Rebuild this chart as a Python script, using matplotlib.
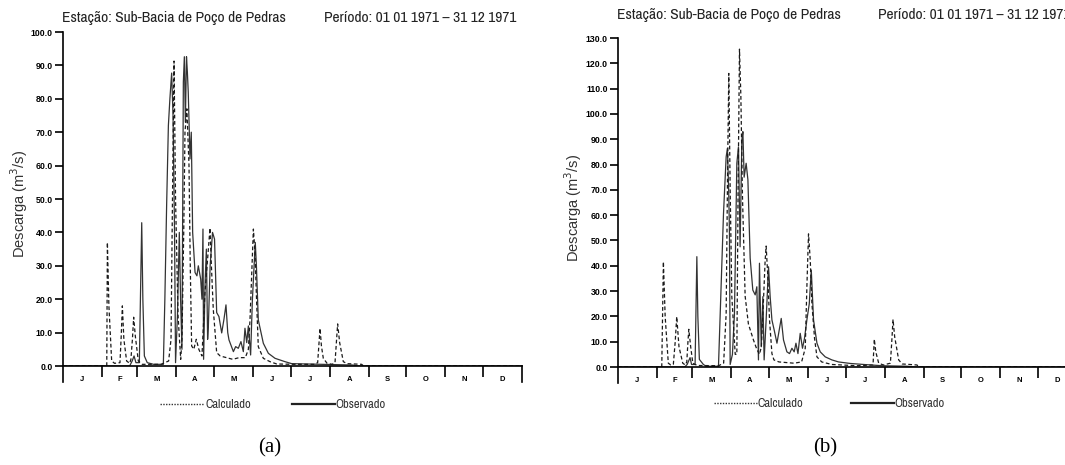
import matplotlib
matplotlib.use("Agg")
import matplotlib.pyplot as plt
from matplotlib import font_manager as fm
from matplotlib.lines import Line2D

# ---------------- data ----------------
months = ["J", "F", "M", "A", "M", "J", "J", "A", "S", "O", "N", "D"]
month_days = [31, 28, 31, 30, 31, 30, 31, 31, 30, 31, 30, 31]

title_station = "Estação: Sub-Bacia de Poço de Pedras"
title_period = "Período: 01 01 1971 – 31 12 1971"
ylabel = "Descarga (m$^3$/s)"
legend_calc = "Calculado"
legend_obs = "Observado"
captions = ["(a)", "(b)"]

# Panel (a)
calc_a_day = [0, 34.8, 35.3, 36.5, 38.7, 41, 45.3, 46.3, 47.2, 48.4, 50.6, 53, 54, 55.2, 56.2,
              57.5, 59.9, 63, 78, 84, 85.9, 87.2, 88.3, 89.5, 91.5, 93.6, 94.6, 96, 97, 98.5,
              100.2, 101.2, 102.3, 104, 106, 108, 110.5, 112.9, 116.9, 118, 119.5, 122.2, 125,
              130, 135, 140, 145, 147.4, 148.7, 151.4, 152.7, 154, 155.3, 159.3, 164.6, 170,
              185, 200, 202.5, 204.4, 205.5, 207, 210, 214, 216.3, 218.4, 220, 222.9, 226,
              237.5, 239, 365]
calc_a_val = [0, 0, 37, 18, 1.5, 0.8, 1, 9, 18, 8, 1.5, 0.8, 2, 8, 14.6,
              9, 1.5, 0.5, 0.5, 1.5, 8, 55, 91.3, 50, 15, 2, 8, 40, 70, 77,
              60, 30, 6, 5, 8, 5, 3, 22, 41.3, 30, 17, 4, 3,
              2.5, 2, 2.5, 2.5, 5, 13.8, 41, 33.8, 18.9, 5.8, 2.3, 1.3, 0.6,
              0.5, 0.5, 1, 11.3, 6, 2.3, 0.8, 0.5, 1, 12.6, 7, 1.3, 0.7,
              0.5, 0, 0]

obs_a_day = [0, 53, 55, 56.5, 58, 60.7, 62.6, 63.5, 64.7, 67, 72, 79.8, 81, 82.4, 83.8, 85,
             86.4, 87.5, 88.7, 89.5, 91, 92.5, 93.5, 94.6, 95.7, 96.5, 97.3, 98.2, 98.9, 99.6,
             101, 102, 103.1, 105, 106.5, 107.6, 109.5, 110.5, 111.3, 111.8, 113, 114, 115,
             115.6, 117, 118.9, 120.5, 122.2, 124, 126.2, 128, 129.6, 131, 132, 135.5, 137.3,
             139.4, 141.5, 143.4, 144.7, 146.1, 147.4, 149.2, 150.6, 152.9, 153.8, 155.3,
             159.3, 163.3, 168.6, 176.5, 181.9, 205.7, 230, 235, 365]
obs_a_val = [0, 0, 1.5, 3, 1, 1, 42.9, 20, 3, 1, 0.5, 0.5, 20, 48, 72, 80,
             87.7, 75, 40, 1, 15, 40, 20, 5, 85, 92.6, 73, 92.6, 88, 82,
             62, 70, 40, 28, 27, 30, 26, 20, 41, 2, 25, 35, 8,
             12, 30, 40, 38, 16, 14.8, 9.9, 14, 18.3, 10, 7.8, 4.3, 5.8,
             5.3, 7.3, 4.3, 11.3, 7, 12, 3.3, 19.8, 37, 30, 13.8,
             6.8, 3.8, 2.3, 1.3, 0.7, 0.5, 0.3, 0, 0]

# Panel (b)
calc_b_day = [0, 34.8, 36.1, 37.5, 40, 42, 44, 45.5, 46.7, 48.5, 51.5, 53.5, 54.7, 55.5, 56.3,
              57.8, 59.5, 63, 80, 84, 86, 87.2, 88.1, 89.2, 90.5, 93.2, 94.5, 95.5, 96.6, 97.7,
              99, 101.1, 103.7, 107.7, 110.4, 112.5, 114, 116, 117, 117.8, 118.9, 120.5, 122.4,
              124, 128, 140, 146, 148.9, 150.2, 151.5, 152.9, 154.2, 156.3, 158.2, 162, 170,
              190, 202.8, 203.8, 205, 207.3, 211, 216.6, 217.7, 218.7, 220, 223.2, 226, 237.8,
              239, 365]
calc_b_val = [0, 0, 41.6, 20, 1.5, 0.8, 1, 10, 19.9, 8, 1.5, 0.8, 2, 9, 14.9,
              8, 1.5, 0.6, 0.5, 1.5, 21, 80, 116, 70, 28, 5, 5, 70, 125.6, 107,
              67, 28, 17, 10.7, 7, 5, 8, 30, 42, 47.8, 38, 18.6, 5.3,
              2.8, 2, 1.5, 2, 7.4, 31.7, 52.6, 42, 25, 11.3, 4, 2, 1,
              0.5, 0.8, 11, 6, 1.5, 0.8, 1.5, 10, 18.8, 12, 2.8, 1.2, 0.8,
              0, 0]

obs_b_day = [0, 53, 55, 57.3, 58.5, 61.3, 62.7, 63.5, 64.7, 67.9, 70, 79.9, 82.6, 83.9, 86,
             87, 88, 88.6, 89.2, 91, 92.6, 94.5, 95.8, 97.1, 98.5, 99.3, 100.3, 101.9, 103.3,
             105.1, 107.2, 109.1, 110.4, 111.7, 112.5, 113.9, 115.2, 116.2, 117.8, 119.7, 121,
             122.4, 124.2, 126.4, 128.2, 129.8, 131.6, 134.3, 136.4, 138.3, 140.1, 141.5, 143.1,
             144.9, 146.7, 148.3, 150.2, 152.1, 153.7, 155.5, 158.2, 160.8, 164.8, 170.1,
             175.4, 184.7, 195.3, 210, 230, 236, 365]
obs_b_val = [0, 0, 1, 3.7, 1, 1, 43.6, 20, 3, 1, 0.3, 0.3, 41, 60.7, 83,
             86.4, 70, 54, 1, 5, 21, 80.5, 87, 47.5, 89.7, 93, 75, 80.5, 74,
             43, 30.4, 28.5, 31.7, 2.8, 41, 8, 27.8, 2.8, 18.6, 39.6, 27.8,
             18.6, 14.6, 9.4, 14.6, 19.2, 10.7, 6, 5.3, 7.4, 6, 9.4, 5.3,
             13.3, 7.4, 11.3, 18.6, 25, 38.3, 18.6, 9.4, 6, 4, 2.8,
             2, 1.4, 1, 0.5, 0.3, 0, 0]

ymax_a, ystep_a = 100, 10
ymax_b, ystep_b = 130, 10

# ---------------- fonts ----------------
def narrow_props():
    for f in fm.fontManager.ttflist:
        nm = f.name.lower()
        if ("narrow" in nm or "condensed" in nm) and "bold" not in str(f.weight) \
                and f.style == "normal":
            return fm.FontProperties(fname=f.fname)
    for f in fm.fontManager.ttflist:
        if f.stretch in ("condensed", "semi-condensed", "extra-condensed", 600, 700) \
                or (isinstance(f.stretch, int) and f.stretch < 500):
            if f.style == "normal" and f.weight in (400, "normal", "regular"):
                return fm.FontProperties(fname=f.fname)
    return fm.FontProperties(family="Liberation Sans")

NARROW_FP = narrow_props()
SANS = "Liberation Sans"
SERIF = "Liberation Serif"

W, H = 1065, 465
fig = plt.figure(figsize=(W / 100, H / 100), dpi=100)
renderer = fig.canvas.get_renderer()

def fx(px):
    return px / W

def fy(py):
    return 1 - py / H

def fitted_size(s, target_w, size):
    fp = NARROW_FP.copy()
    fp.set_size(size)
    t = fig.text(0, 0, s, fontproperties=fp)
    w = t.get_window_extent(renderer).width
    t.remove()
    return size * target_w / w if w > 0 else size

def ntext(x, y, s, size, **kw):
    fp = NARROW_FP.copy()
    fp.set_size(size)
    return fig.text(fx(x), fy(y), s, fontproperties=fp, **kw)

bounds = [0]
for d in month_days:
    bounds.append(bounds[-1] + d)
mids = [(bounds[i] + bounds[i + 1]) / 2 for i in range(12)]

def panel(x0, x1, y0, ytop, ymax, ystep, cd, cv, od, ov):
    ax = fig.add_axes([fx(x0), fy(y0), fx(x1 - x0), (y0 - ytop) / H])
    ax.plot(od, ov, color="#333333", lw=0.9)
    ax.plot(cd, cv, color="#1a1a1a", lw=0.9, linestyle=(0, (3, 2)))
    ax.set_xlim(0, 365)
    ax.set_ylim(0, ymax)
    for s in ["top", "right"]:
        ax.spines[s].set_visible(False)
    ax.spines["left"].set_linewidth(1.2)
    ax.spines["bottom"].set_linewidth(1.2)
    ext = ymax * 16 / (y0 - ytop)
    ax.spines["left"].set_bounds(-ext, ymax)
    ax.plot([365, 365], [0, -ext], color="k", lw=1.2, clip_on=False)
    yt = list(range(0, ymax + 1, ystep))
    ax.set_yticks(yt)
    ax.set_yticklabels([f"{v:.1f}" for v in yt], fontfamily=SANS, fontsize=6.3,
                       fontweight="bold")
    ax.tick_params(axis="y", direction="out", length=6, width=1.2, pad=1.5)
    ax.set_xticks(bounds[1:-1])
    ax.set_xticklabels([])
    ax.tick_params(axis="x", which="major", direction="out", length=8, width=1.2)
    ax.set_xticks(mids, minor=True)
    ax.set_xticklabels(months, minor=True, fontfamily=SANS, fontsize=5.5,
                       fontweight="bold")
    ax.tick_params(axis="x", which="minor", length=0, pad=7)
    return ax

panel(63, 522, 366, 32, ymax_a, ystep_a, calc_a_day, calc_a_val, obs_a_day, obs_a_val)
panel(618, 1077, 367, 38, ymax_b, ystep_b, calc_b_day, calc_b_val, obs_b_day, obs_b_val)

# titles
title_size = fitted_size(title_station, 224, 11.5)
tkw = dict(color="#222", va="center", ha="left")
ntext(62, 18, title_station, title_size, **tkw)
ntext(324, 18, title_period, title_size, **tkw)
ntext(617, 15, title_station, title_size, **tkw)
ntext(878, 15, title_period, title_size, **tkw)

# y labels
ykw = dict(fontfamily=SANS, fontsize=10.5, color="#333", rotation=90, va="center",
           ha="center")
fig.text(fx(19), fy(204), ylabel, **ykw)
fig.text(fx(573), fy(208), ylabel, **ykw)

# legends
leg_size = fitted_size(legend_calc, 46, 9)

def legend(xd0, xd1, xs0, xs1, y):
    fig.add_artist(Line2D([fx(xd0), fx(xd1)], [fy(y), fy(y)], color="#333", lw=1.0,
                          linestyle=(0, (1, 1))))
    ntext(xd1 + 1, y, legend_calc, leg_size, color="#333", va="center", ha="left")
    fig.add_artist(Line2D([fx(xs0), fx(xs1)], [fy(y), fy(y)], color="#222", lw=1.6))
    ntext(xs1 + 0.5, y, legend_obs, leg_size, color="#333", va="center", ha="left")

legend(160, 204, 292, 335, 404)
legend(714, 757, 851, 894, 403)

# captions
fig.text(fx(270), fy(448), captions[0], fontfamily=SERIF, fontsize=15, ha="center",
         va="center")
fig.text(fx(825), fy(448), captions[1], fontfamily=SERIF, fontsize=15, ha="center",
         va="center")

fig.savefig("out.png", dpi=100)
